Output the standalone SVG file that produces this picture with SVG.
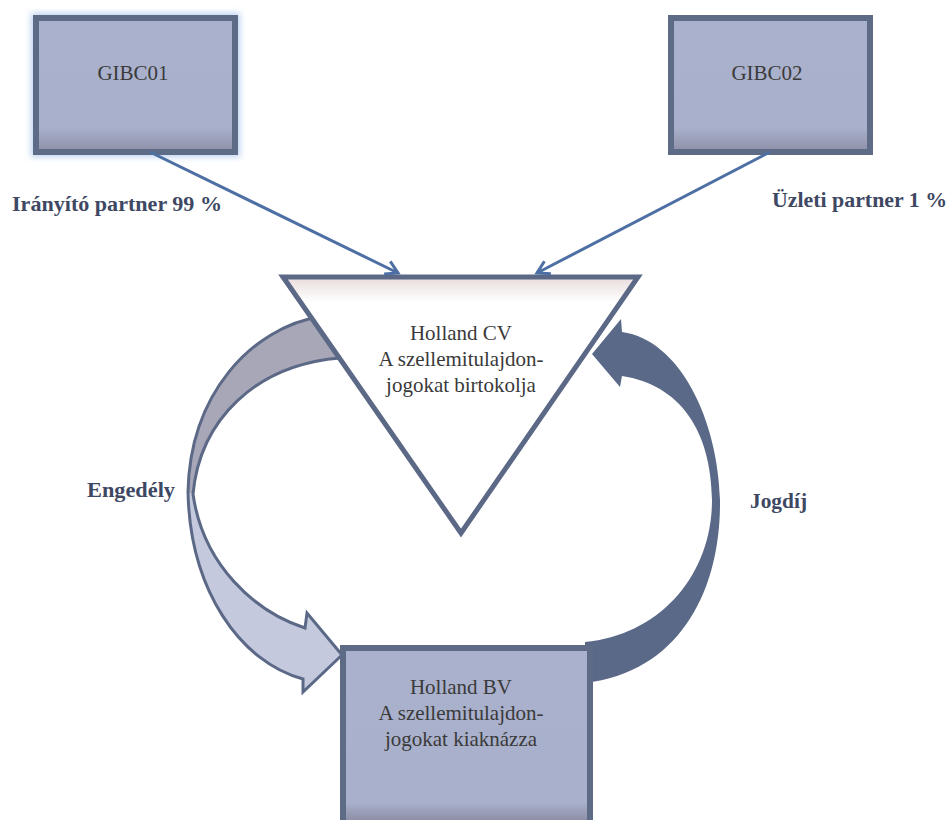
<svg xmlns="http://www.w3.org/2000/svg" width="949" height="820" viewBox="0 0 949 820">
<defs>
<style>
.box{fill:url(#boxg);stroke:#5e6b87;stroke-width:6}
.nt{font-family:"Liberation Serif",serif;font-size:21px;fill:#3a3a3a;text-anchor:middle}
.lb{font-family:"Liberation Serif",serif;font-size:21px;font-weight:bold;fill:#3e4863}
.conn{stroke:#4d6fa3;stroke-width:3;fill:none}
</style>
<linearGradient id="boxg" x1="0" y1="0" x2="0" y2="1">
<stop offset="0" stop-color="#aab1cc"/><stop offset="0.82" stop-color="#a9b0cb"/><stop offset="1" stop-color="#8d8fa6"/>
</linearGradient>
<linearGradient id="bvg" x1="0" y1="648" x2="0" y2="820" gradientUnits="userSpaceOnUse">
<stop offset="0" stop-color="#aab1cc"/><stop offset="0.9" stop-color="#a9b0cb"/><stop offset="1" stop-color="#8d8fa6"/>
</linearGradient>
<linearGradient id="trig" x1="0" y1="277" x2="0" y2="533" gradientUnits="userSpaceOnUse">
<stop offset="0" stop-color="#e9dcdc"/><stop offset="0.1" stop-color="#ffffff"/><stop offset="1" stop-color="#ffffff"/>
</linearGradient>
<linearGradient id="leftg" x1="0" y1="316" x2="0" y2="692" gradientUnits="userSpaceOnUse">
<stop offset="0" stop-color="#a8a7b8"/><stop offset="0.47" stop-color="#a8a7b8"/><stop offset="0.47" stop-color="#c4c9dd"/><stop offset="1" stop-color="#c4c9dd"/>
</linearGradient>
<filter id="glow" x="-20%" y="-20%" width="140%" height="140%"><feGaussianBlur stdDeviation="3"/></filter>
<marker id="ah" markerWidth="18" markerHeight="18" refX="15" refY="9" orient="auto" markerUnits="userSpaceOnUse">
<path d="M3,2 L15,9 L3,16" fill="none" stroke="#4d6fa3" stroke-width="3"/>
</marker>
</defs>
<rect width="949" height="820" fill="#ffffff"/>

<g id="arrow-engedely">
<path d="M 322 316 C 250 328, 190 395, 188 492 C 190 590, 240 662, 303 679 L 303 692 L 342 655 L 307 613 L 305 628 C 255 612, 203 565, 193 494 C 200 420, 255 365, 340 358 Z" fill="url(#leftg)" stroke="#5b6886" stroke-width="3" stroke-linejoin="miter"/>
</g>
<g id="arrow-jogdij">
<path d="M 622 332 C 680 340, 718 420, 720 500 C 721 590, 680 672, 585 683 L 585 642 C 660 635, 712 575, 712 500 C 711 430, 680 385, 622 376 L 620 387 L 592 354 L 621 319 Z" fill="#5a6988"/>
</g>

<g id="gibc01">
<rect x="36" y="18" width="199" height="134" fill="none" stroke="#bcd0f0" stroke-width="10" filter="url(#glow)"/>
<rect class="box" x="36" y="18" width="199" height="134"/>
<text class="nt" x="133" y="80" font-size="19">GIBC01</text>
</g>
<g id="gibc02">
<rect class="box" x="671" y="18" width="199" height="134"/>
<text class="nt" x="767" y="80" font-size="19">GIBC02</text>
</g>

<g id="holland-cv">
<polygon points="283,277 638,277 461,533" fill="url(#trig)" stroke="#5b6886" stroke-width="5" stroke-linejoin="miter"/>
<text class="nt" x="461" y="340">Holland CV</text>
<text class="nt" x="461" y="366">A szellemitulajdon-</text>
<text class="nt" x="461" y="392">jogokat birtokolja</text>
</g>

<g id="holland-bv">
<rect x="343" y="648" width="247" height="190" fill="url(#bvg)" stroke="#5e6b87" stroke-width="6"/>
<text class="nt" x="461" y="694">Holland BV</text>
<text class="nt" x="461" y="720">A szellemitulajdon-</text>
<text class="nt" x="461" y="746">jogokat kiaknázza</text>
</g>

<g id="connectors">
<line class="conn" x1="150" y1="152" x2="398" y2="273" marker-end="url(#ah)"/>
<line class="conn" x1="770" y1="152" x2="537" y2="273" marker-end="url(#ah)"/>
</g>

<g id="labels">
<text class="lb" x="12" y="211" textLength="210" lengthAdjust="spacingAndGlyphs">Irányító partner 99 %</text>
<text class="lb" x="772" y="207" textLength="175" lengthAdjust="spacingAndGlyphs">Üzleti partner 1 %</text>
<text class="lb" x="87" y="497" textLength="88" lengthAdjust="spacingAndGlyphs">Engedély</text>
<text class="lb" x="750" y="508" textLength="57" lengthAdjust="spacingAndGlyphs">Jogdíj</text>
</g>
</svg>
